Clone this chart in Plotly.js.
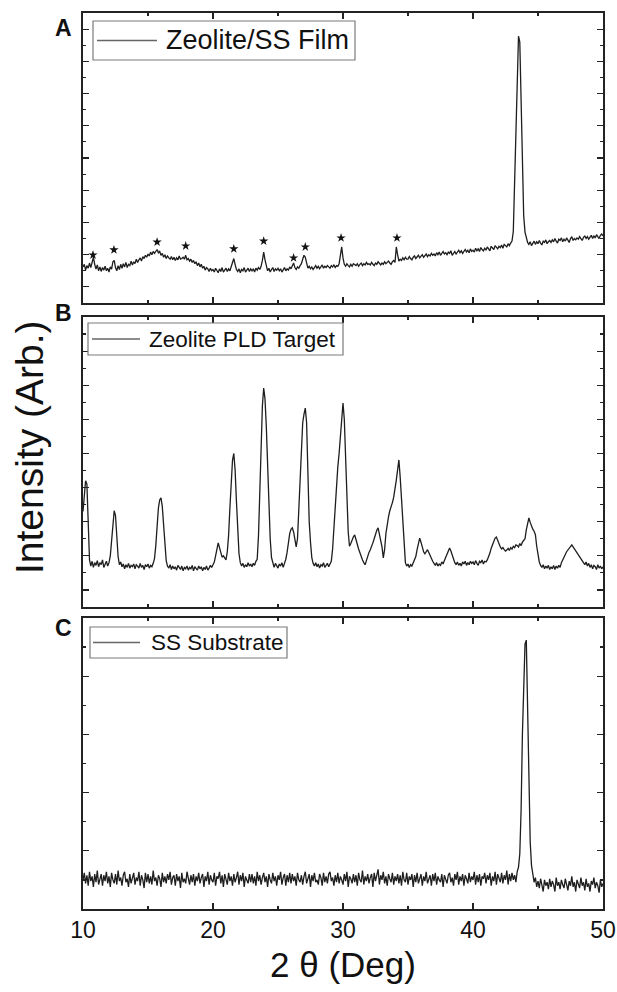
<!DOCTYPE html>
<html>
<head>
<meta charset="utf-8">
<script src="https://cdn.plot.ly/plotly-3.0.1.min.js"></script>
<style>html,body{margin:0;padding:0;background:#fff}#chart{width:617px;height:992px}</style>
</head>
<body>
<div id="chart"></div>
<script>
// 2θ scan: 10° to 50°, 0.1° step
const twoThetaStart = 10;
const twoThetaStep = 0.1;

const seriesNames = ['Zeolite/SS Film', 'Zeolite PLD Target', 'SS Substrate'];
const panelLabels = ['A', 'B', 'C'];

// (A) Zeolite/SS film
const filmIntensity = [
 62,70,52,66,58,74,60,80,92,70,
 55,68,50,62,48,60,52,64,50,58,
 46,62,55,78,82,60,50,66,54,70,
 58,72,62,76,60,70,66,80,68,78,
 72,86,76,84,90,80,94,88,98,92,
 102,96,108,100,110,104,112,116,106,110,
 98,104,92,100,88,96,90,86,94,84,
 92,82,90,84,96,86,88,92,86,98,
 84,88,80,86,76,82,72,78,66,74,
 62,70,58,64,52,60,56,48,58,50,
 54,46,58,50,44,56,48,60,46,52,
 58,48,56,50,62,74,88,70,54,48,
 56,44,54,50,60,46,52,58,48,56,
 50,56,46,58,52,60,54,64,82,108,
 84,60,50,58,46,54,60,48,56,52,
 58,50,56,46,54,60,50,56,52,62,
 56,64,74,60,54,62,58,66,72,86,
 98,92,70,58,64,56,62,54,60,66,
 58,64,56,62,68,58,64,60,66,62,
 58,66,62,68,60,66,64,72,94,124,
 90,70,64,72,66,62,70,64,72,68,
 66,72,64,70,74,66,72,68,76,70,
 72,68,76,70,66,74,70,78,72,68,
 74,70,78,72,76,80,74,70,78,82,
 76,124,100,80,86,82,90,84,92,86,
 86,94,88,84,92,96,88,94,98,90,
 94,100,92,98,102,94,100,96,104,98,
 102,96,106,100,108,98,104,110,102,106,
 100,108,104,112,98,106,110,102,108,114,
 106,112,104,110,116,108,114,106,118,110,
 114,108,120,112,118,110,122,116,112,120,
 114,124,118,112,126,120,116,128,122,118,
 126,122,130,120,132,126,124,134,128,136,
 142,172,330,500,690,778,760,600,400,220,
 170,150,138,132,140,128,136,142,132,140,
 134,144,136,130,142,138,146,134,140,144,
 138,146,140,150,142,136,148,144,152,140,
 148,142,152,146,138,150,156,144,150,146,
 152,148,156,150,144,154,158,150,156,148,
 154,160,150,158,152,162,156,150,160,164,
 158
];

// star markers above zeolite reflections in the film pattern
const starTwoTheta = [10.77, 12.38, 15.7, 17.9, 21.6, 23.9, 26.2, 27.1, 29.85, 34.15];
const starIntensity = [99, 115, 139, 127, 118, 142, 90, 124, 152, 152];

// (B) Zeolite PLD target
const targetIntensity = [
 230,290,320,310,160,88,70,84,66,80,
 72,86,68,80,74,88,66,78,84,70,
 80,100,150,205,232,218,150,98,74,82,
 68,76,62,74,66,78,64,72,68,76,
 62,74,70,64,78,66,72,60,74,68,
 76,64,72,68,78,92,130,190,240,264,
 270,244,182,120,86,70,64,74,60,70,
 62,68,58,72,64,60,70,56,66,62,
 70,58,66,62,72,56,68,64,58,70,
 62,68,56,66,60,70,58,64,72,66,
 72,82,100,122,138,124,108,96,100,94,
 88,112,160,240,330,380,400,352,262,164,
 106,80,70,78,66,74,68,80,70,76,
 68,78,72,84,90,160,300,430,540,592,
 560,480,370,250,150,95,76,66,78,70,
 64,76,70,80,66,78,90,110,140,165,
 178,182,170,140,126,150,230,330,430,490,
 515,533,490,330,200,140,95,78,70,80,
 68,76,64,74,70,80,66,72,78,68,
 74,84,120,180,250,331,360,400,450,500,
 548,500,410,280,170,128,136,148,156,161,
 150,134,120,108,98,88,80,74,86,100,
 110,118,126,138,150,164,175,182,162,140,
 126,94,118,165,195,214,232,243,256,272,
 293,322,352,381,330,264,190,117,80,70,
 76,66,74,70,80,86,98,118,138,152,
 140,124,112,106,114,118,110,100,90,84,
 78,72,80,70,76,72,82,76,86,96,
 106,116,123,114,100,88,80,74,82,72,
 78,70,82,76,84,72,80,74,84,78,
 82,74,86,78,72,84,80,88,76,84,
 82,88,96,108,122,134,146,152,155,146,
 132,126,120,124,118,114,117,122,116,124,
 120,128,124,132,130,126,136,130,140,146,
 150,176,195,211,198,186,178,172,162,128,
 97,82,72,66,74,62,70,64,72,60,
 68,62,72,60,70,64,72,66,80,90,
 98,104,112,118,124,128,132,126,120,112,
 108,102,96,90,84,79,74,82,70,78,
 66,74,62,72,68,60,74,64,70,62,
 68
];

// (C) SS substrate
const substrateIntensity = [
 50,62,44,58,40,64,48,56,38,60,
 46,66,42,54,60,40,58,48,64,44,
 56,38,62,50,44,60,42,66,48,54,
 40,58,64,46,52,38,60,44,56,62,
 42,54,48,64,40,58,50,36,62,46,
 60,44,56,42,66,48,54,40,58,52,
 38,62,46,56,44,60,50,64,42,54,
 58,40,60,48,56,36,62,46,52,44,
 64,50,42,58,46,60,40,56,48,62,
 44,54,60,38,56,48,64,42,58,50,
 46,62,40,56,52,64,44,58,38,60,
 50,42,62,48,56,40,60,46,54,64,
 42,58,48,62,38,56,50,44,60,46,
 60,44,56,40,64,48,58,42,54,62,
 46,56,38,60,50,44,62,48,56,40,
 58,50,64,42,54,60,40,58,46,62,
 44,60,48,56,40,62,50,46,58,42,
 56,64,44,52,60,38,58,48,62,46,
 50,42,60,54,40,62,46,56,44,60,
 64,48,54,40,58,46,62,44,56,50,
 42,60,48,64,38,56,52,44,60,46,
 58,40,62,50,46,66,42,56,48,60,
 44,54,60,38,62,48,56,68,42,58,
 50,64,44,56,40,60,52,46,62,42,
 56,48,60,44,58,40,64,50,46,62,
 42,56,50,60,38,58,46,62,44,54,
 60,40,56,48,64,44,52,58,40,60,
 48,62,42,56,50,46,60,38,58,52,
 44,58,62,46,54,40,60,50,64,42,
 56,48,60,40,58,52,44,62,46,56,
 50,64,42,58,46,60,40,56,52,62,
 44,58,50,62,40,56,48,64,42,60,
 54,46,62,44,58,50,66,42,60,48,
 62,50,58,46,64,72,95,170,300,390,
 455,462,350,220,115,75,58,46,54,38,
 48,36,52,42,30,50,40,46,34,52,
 38,48,42,30,54,40,46,34,50,42,
 36,52,44,32,48,40,56,38,46,30,
 50,42,36,54,40,46,32,52,38,44,
 30,48,42,54,36,46,40,28,50,38,
 44
];

const W = 617, H = 992;
const px = v => v / W;
const py = v => 1 - v / H;
const FONT = '"Liberation Sans", Arial, Helvetica, sans-serif';
const lineColor = '#1e1e1e';

const traces = [
  {type: 'scatter', mode: 'lines', name: seriesNames[0], x0: twoThetaStart, dx: twoThetaStep, y: filmIntensity,
   xaxis: 'x', yaxis: 'y', showlegend: false, line: {color: lineColor, width: 1.3}},
  {type: 'scatter', mode: 'markers', x: starTwoTheta, y: starIntensity, xaxis: 'x', yaxis: 'y', showlegend: false,
   marker: {symbol: 'star', size: 7, color: '#111'}, hoverinfo: 'skip'},
  {type: 'scatter', mode: 'lines', name: seriesNames[1], x0: twoThetaStart, dx: twoThetaStep, y: targetIntensity,
   xaxis: 'x2', yaxis: 'y2', showlegend: false, line: {color: lineColor, width: 1.3}},
  {type: 'scatter', mode: 'lines', name: seriesNames[2], x0: twoThetaStart, dx: twoThetaStep, y: substrateIntensity,
   xaxis: 'x3', yaxis: 'y3', showlegend: false, line: {color: lineColor, width: 1.3}}
];

const xdom = [px(83), px(603)];
function xAxis(anchor, showLabels) {
  return {
    domain: xdom, anchor: anchor, range: [10, 50], dtick: 10, tick0: 10,
    ticks: 'inside', ticklen: 6, tickwidth: 1.2, tickcolor: '#222',
    minor: {dtick: 5, ticklen: 3, tickwidth: 1.2, tickcolor: '#222', ticks: 'inside'},
    showline: true, linecolor: '#222', linewidth: 1.8, mirror: 'ticks',
    showgrid: false, zeroline: false, showticklabels: showLabels,
    tickfont: {family: FONT, size: 23, color: '#111'}
  };
}
function yAxis(anchor, top, bottom, range, dt) {
  return {
    domain: [py(bottom), py(top)], anchor: anchor, range: range, dtick: dt, tick0: 0,
    ticks: 'inside', ticklen: 6, tickwidth: 1.2, tickcolor: '#222',
    minor: {dtick: dt / 2, ticklen: 3, tickwidth: 1.2, tickcolor: '#222', ticks: 'inside'},
    showline: true, linecolor: '#222', linewidth: 1.8, mirror: 'ticks',
    showgrid: false, zeroline: false, showticklabels: false
  };
}

const xa3 = xAxis('y3', true);
xa3.title = {text: '2 θ (Deg)', font: {family: FONT, size: 35, color: '#111'}, standoff: 10};

// legend boxes drawn per panel: [left, top, right, bottom, sampleStart, sampleEnd, textX, fontSize]
const legendBoxes = [
  [93, 21, 355, 60, 97, 157, 164, 27],
  [88, 323, 343, 355, 92, 140, 147, 22.5],
  [90, 627, 287, 658, 93, 140, 149, 22.5]
];

const shapes = [];
const annotations = [];
legendBoxes.forEach((b, i) => {
  const [l, t, r, btm, s0, s1, tx, fs] = b;
  const mid = (t + btm) / 2;
  shapes.push({type: 'rect', xref: 'paper', yref: 'paper', x0: px(l), x1: px(r), y0: py(btm), y1: py(t),
               line: {color: '#7a7a7a', width: 1.2}, fillcolor: '#fff', layer: 'above'});
  shapes.push({type: 'line', xref: 'paper', yref: 'paper', x0: px(s0), x1: px(s1), y0: py(mid), y1: py(mid),
               line: {color: '#666', width: 1.4}, layer: 'above'});
  annotations.push({text: seriesNames[i], xref: 'paper', yref: 'paper', x: px(tx), y: py(mid),
                    xanchor: 'left', yanchor: 'middle', showarrow: false,
                    font: {family: FONT, size: fs, color: '#111'}});
});

const panelY = [28, 313, 628];
panelLabels.forEach((t, i) => annotations.push({
  text: '<b>' + t + '</b>', xref: 'paper', yref: 'paper', x: px(63), y: py(panelY[i]),
  xanchor: 'center', yanchor: 'middle', showarrow: false,
  font: {family: FONT, size: 23, color: '#111'}
}));
annotations.push({
  text: 'Intensity (Arb.)', xref: 'paper', yref: 'paper', x: px(29), y: py(447),
  xanchor: 'center', yanchor: 'middle', textangle: -90, showarrow: false,
  font: {family: FONT, size: 39, color: '#111'}
});

const layout = {
  width: W, height: H, margin: {l: 0, r: 0, t: 0, b: 0},
  paper_bgcolor: '#fff', plot_bgcolor: '#fff', showlegend: false,
  xaxis: xAxis('y', false), xaxis2: xAxis('y2', false), xaxis3: xa3,
  yaxis: yAxis('x', 13, 303, [-50, 850], 100),
  yaxis2: yAxis('x2', 317, 607, [-50, 800], 100),
  yaxis3: yAxis('x3', 618, 909, [0, 500], 100),
  shapes: shapes,
  annotations: annotations,
  font: {family: FONT}
};

Plotly.newPlot('chart', traces, layout, {staticPlot: true, displayModeBar: false});
</script>
</body>
</html>
